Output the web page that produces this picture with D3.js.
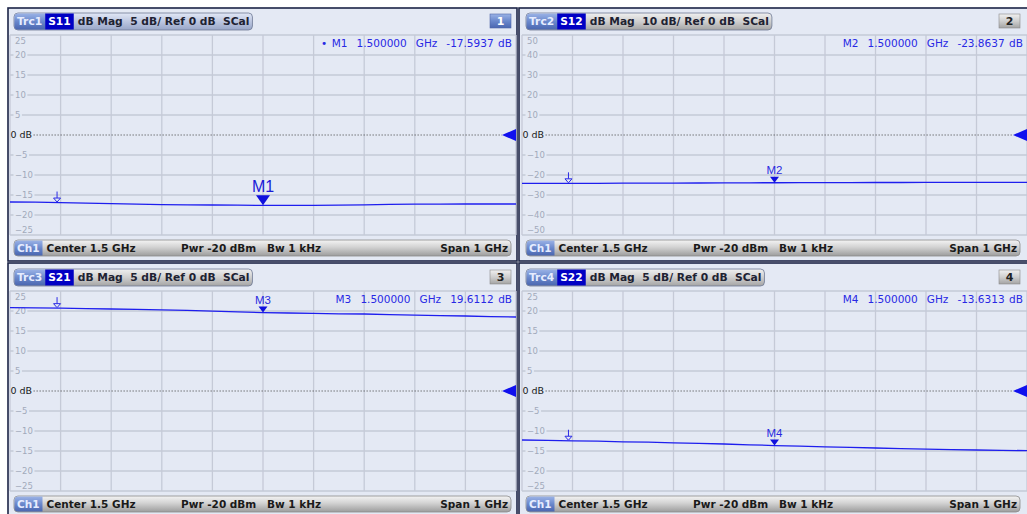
<!DOCTYPE html>
<html><head><meta charset="utf-8">
<script src="https://cdn.jsdelivr.net/npm/d3@7"></script>
<style>
html,body{margin:0;padding:0;background:#fff;}
svg{display:block;}
text{white-space:pre;}
</style></head><body>
<svg id="c" width="1027" height="514"></svg>
<script>
// Sweep frequencies (GHz) and the four S-parameter magnitude traces (dB)
const freqGHz = [1.00,1.05,1.10,1.15,1.20,1.25,1.30,1.35,1.40,1.45,1.50,1.55,1.60,1.65,1.70,1.75,1.80,1.85,1.90,1.95,2.00];
const s11 = [-16.75,-16.80,-16.90,-17.05,-17.15,-17.30,-17.40,-17.45,-17.50,-17.55,-17.5937,-17.60,-17.60,-17.55,-17.45,-17.35,-17.30,-17.30,-17.25,-17.25,-17.25];
const s12 = [-24.20,-24.20,-24.15,-24.15,-24.10,-24.10,-24.05,-24.00,-23.95,-23.90,-23.8637,-23.85,-23.80,-23.80,-23.75,-23.75,-23.70,-23.70,-23.70,-23.65,-23.65];
const s21 = [20.85,20.80,20.70,20.60,20.50,20.40,20.30,20.15,19.95,19.80,19.6112,19.50,19.40,19.30,19.25,19.10,18.95,18.85,18.75,18.60,18.50];
const s22 = [-12.25,-12.35,-12.45,-12.55,-12.70,-12.80,-12.95,-13.10,-13.25,-13.45,-13.6313,-13.80,-13.95,-14.10,-14.25,-14.40,-14.55,-14.65,-14.75,-14.85,-14.90];

const traceNames = ["Trc1","Trc2","Trc3","Trc4"];
const paramNames = ["S11","S12","S21","S22"];
const dbPerDiv = [5,10,5,5];
const windowNums = ["1","2","3","4"];
const markerNames = ["M1","M2","M3","M4"];
const markerGHz = 1.5;
const markerDb = [-17.5937,-23.8637,19.6112,-13.6313];
const markerReadout = ["-17.5937 dB","-23.8637 dB","19.6112 dB","-13.6313 dB"];
const stimGHz = [1.093,1.092,1.093,1.092];
const ticks5 = [25,20,15,10,5,0,-5,-10,-15,-20,-25];
const ticks10 = [50,40,30,20,10,0,-10,-20,-30,-40,-50];
const xDivs = [1.0,1.1,1.2,1.3,1.4,1.5,1.6,1.7,1.8,1.9,2.0];
const channelLabel = "Ch1";
const channelInfo = ["Center 1.5 GHz","Pwr -20 dBm","Bw 1 kHz","Span 1 GHz"];
const series = [s11,s12,s21,s22];

// screen layout of the 2x2 diagram windows
const cols = [{x0:10,x1:516,fl:8,fr:517},{x0:522,x1:1027,fl:519,fr:1029}];
const rows = [{top:35,bot:235,ft:8,fb:261},{top:291,bot:491,ft:263,fb:516}];

const BG = "#e4e9f4", GRID = "#c5cad7", TRACE = "#1e1eee", MARK = "#2a2ae6";
const FONT = "DejaVu Sans, Verdana, sans-serif";

const svg = d3.select("#c");
const defs = svg.append("defs");
function grad(id, stops){
  const g = defs.append("linearGradient").attr("id",id).attr("x1",0).attr("y1",0).attr("x2",0).attr("y2",1);
  stops.forEach(([o,c])=>g.append("stop").attr("offset",o).attr("stop-color",c));
}
grad("gBlue",[[0,"#9ab2e6"],[0.5,"#6a88cc"],[1,"#4a66b0"]]);
grad("gBlueGray",[[0,"#e2e8f6"],[0.5,"#bcc6e0"],[1,"#98a6c8"]]);
grad("gGray",[[0,"#f0f0f0"],[0.5,"#cfcfcf"],[1,"#a4a4a4"]]);
grad("gBar",[[0,"#f4f4f4"],[0.45,"#d2d2d2"],[1,"#9c9c9c"]]);

function textW(sel){ return sel.node().getComputedTextLength(); }

// trace value at an arbitrary sweep frequency, read along the drawn polyline
function traceAt(data, f){
  const k = Math.min(freqGHz.length-2, Math.max(0, d3.bisectRight(freqGHz, f)-1));
  const t = (f - freqGHz[k]) / (freqGHz[k+1] - freqGHz[k]);
  return data[k] + (data[k+1]-data[k]) * t;
}

series.forEach((data, i) => {
  const col = cols[i % 2], row = rows[Math.floor(i / 2)];
  const active = i === 0;
  const div = dbPerDiv[i];
  const tickVals = div === 10 ? ticks10 : ticks5;
  const g = svg.append("g");

  // window frame
  g.append("rect").attr("x",col.fl).attr("y",row.ft).attr("width",col.fr-col.fl).attr("height",row.fb-row.ft)
    .attr("fill",BG).attr("stroke","#1c2446").attr("stroke-width",1.6);

  const x = d3.scaleLinear().domain([1.0,2.0]).range([col.x0,col.x1]);
  const y = d3.scaleLinear().domain([-5*div,5*div]).range([row.bot,row.top]);

  // grid
  const grid = g.append("g");
  grid.selectAll("line.v").data(xDivs).join("line")
    .attr("x1",d=>x(d)).attr("x2",d=>x(d)).attr("y1",row.top).attr("y2",row.bot)
    .attr("stroke",GRID).attr("stroke-width",1.3);
  grid.selectAll("line.h").data(tickVals.filter(v=>v!==0)).join("line")
    .attr("x1",col.x0).attr("x2",col.x1).attr("y1",d=>y(d)).attr("y2",d=>y(d))
    .attr("stroke",GRID).attr("stroke-width",1.3);

  // tick labels with knocked-out background
  const lab = g.append("g").attr("font-family",FONT).attr("font-size",8.5).attr("fill","#a2aabb");
  tickVals.filter(v=>v!==0).forEach(v=>{
    const edge = v === tickVals[0] ? 1 : (v === tickVals[tickVals.length-1] ? -1 : 0);
    const ty = edge === 1 ? y(v)+6 : (edge === -1 ? y(v)-4.5 : y(v));
    const t = lab.append("text").attr("x",col.x0+5).attr("y",ty).attr("dy","0.35em").text(String(v).replace("-","\u2212"));
    if (edge === 0) {
      const w = textW(t);
      lab.insert("rect","text:last-child").attr("x",col.x0+3.5).attr("y",y(v)-2).attr("width",w+3).attr("height",4).attr("fill",BG);
    }
  });

  // reference line (0 dB) with label and level arrow
  const y0 = y(0);
  const zl = g.append("text").attr("x",col.x0+0.5).attr("y",y0).attr("dy","0.36em")
    .attr("font-family",FONT).attr("font-size",9.5).attr("fill","#1a1a1a").text("0 dB");
  g.append("line").attr("x1",col.x0+1+textW(zl)+1).attr("x2",col.x1-14).attr("y1",y0).attr("y2",y0)
    .attr("stroke","#3a3a3a").attr("stroke-width",1).attr("stroke-dasharray","1,2");
  g.append("path").attr("d",`M${col.x1-14},${y0}L${col.x1},${y0-6}L${col.x1},${y0+6}Z`).attr("fill","#1010ee");

  // trace
  const line = d3.line().x((d,k)=>x(freqGHz[k])).y(d=>y(d));
  g.append("path").datum(data).attr("d",line).attr("fill","none").attr("stroke",TRACE).attr("stroke-width",1.3);

  // stimulus marker symbol
  const sx = x(stimGHz[i]), sy = y(traceAt(data, stimGHz[i]));
  g.append("line").attr("x1",sx).attr("x2",sx).attr("y1",sy-11).attr("y2",sy-4.5).attr("stroke",MARK).attr("stroke-width",1);
  g.append("path").attr("d",`M${sx-3.5},${sy-4.5}L${sx+3.5},${sy-4.5}L${sx},${sy-0.5}Z`).attr("fill",BG).attr("stroke",MARK).attr("stroke-width",1);

  // marker M
  const mx = x(markerGHz), my = y(markerDb[i]);
  if (active) {
    g.append("path").attr("d",`M${mx-7},${my-10}L${mx+7},${my-10}L${mx},${my}Z`).attr("fill","#1010dd");
    g.append("text").attr("x",mx).attr("y",my-13).attr("text-anchor","middle")
      .attr("font-family","Liberation Sans, Arial, sans-serif").attr("font-size",16).attr("fill","#1a1ad8").text(markerNames[i]);
  } else {
    g.append("path").attr("d",`M${mx-4.5},${my-6}L${mx+4.5},${my-6}L${mx},${my}Z`).attr("fill","#1010dd");
    g.append("text").attr("x",mx).attr("y",my-8.5).attr("text-anchor","middle")
      .attr("font-family","Liberation Sans, Arial, sans-serif").attr("font-size",11.5).attr("fill","#2a2ae0").text(markerNames[i]);
  }

  // marker readout
  const ro = (active ? "\u2022 " : "") + markerNames[i] + "  1.500000  GHz  " + markerReadout[i];
  g.append("text").attr("x",col.x1-4).attr("y",row.top+11.5).attr("text-anchor","end")
    .attr("font-family",FONT).attr("font-size",10.5).attr("word-spacing",1.2).attr("fill","#2828e4").text(ro);

  // trace header pill
  const py = row.top - 22, ph = 17, px = col.x0 + 4;
  const hdr = g.append("g").attr("font-family",FONT).attr("font-weight","bold").attr("font-size",10.7);
  const t1 = hdr.append("text").attr("y",py+ph/2).attr("dy","0.36em").attr("fill","#e6ecff").text(traceNames[i]);
  const t2 = hdr.append("text").attr("y",py+ph/2).attr("dy","0.36em").attr("fill","#ffffff").text(paramNames[i]);
  const t3 = hdr.append("text").attr("y",py+ph/2).attr("dy","0.36em").attr("fill","#1e2232")
    .text(`dB Mag  ${div} dB/ Ref 0 dB  SCal`);
  const w1 = textW(t1)+6, w2 = textW(t2)+6, w3 = textW(t3)+7;
  const bgG = hdr.insert("g","text");
  bgG.append("rect").attr("x",px).attr("y",py).attr("width",w1+w2+w3).attr("height",ph).attr("rx",4)
    .attr("fill",active ? "url(#gBlueGray)" : "url(#gGray)").attr("stroke","#6e7a96").attr("stroke-width",0.8);
  bgG.append("path").attr("d",`M${px+w1},${py+0.5}H${px+4}A3.5,3.5 0 0 0 ${px+0.5},${py+4}V${py+ph-4}A3.5,3.5 0 0 0 ${px+4},${py+ph-0.5}H${px+w1}Z`).attr("fill","url(#gBlue)");
  bgG.append("rect").attr("x",px+w1).attr("y",py+0.5).attr("width",w2).attr("height",ph-1).attr("fill","#0000c4");
  t1.attr("x",px+3); t2.attr("x",px+w1+3); t3.attr("x",px+w1+w2+4);

  // window number badge
  const bw = 21, bx = col.x1 - 5 - bw - (i%2 ? 2 : 0), by = row.top - 21;
  g.append("rect").attr("x",bx).attr("y",by).attr("width",bw).attr("height",14)
    .attr("fill",active ? "url(#gBlue)" : "url(#gGray)").attr("stroke",active ? "#5068a8" : "#8a8a8a").attr("stroke-width",0.6);
  g.append("text").attr("x",bx+bw/2).attr("y",by+7).attr("dy","0.36em").attr("text-anchor","middle")
    .attr("font-family",FONT).attr("font-weight","bold").attr("font-size",11).attr("fill",active ? "#ffffff" : "#222").text(windowNums[i]);

  // channel bar
  const cy = row.bot + 5, ch = 16, cx = col.x0 + 4, cw = (col.x1 - 5) - cx - (i%2 ? 2 : 0);
  const bar = g.append("g").attr("font-family",FONT).attr("font-weight","bold").attr("font-size",10.5);
  bar.append("rect").attr("x",cx).attr("y",cy).attr("width",cw).attr("height",ch).attr("rx",4)
    .attr("fill","url(#gBar)").attr("stroke","#8c8c8c").attr("stroke-width",0.8);
  const ct = bar.append("text").attr("x",cx+3).attr("y",cy+ch/2).attr("dy","0.36em").attr("fill","#e6ecff").text(channelLabel);
  const cwl = textW(ct)+6;
  bar.insert("path","text").attr("d",`M${cx+cwl},${cy+0.5}H${cx+4}A3.5,3.5 0 0 0 ${cx+0.5},${cy+4}V${cy+ch-4}A3.5,3.5 0 0 0 ${cx+4},${cy+ch-0.5}H${cx+cwl}Z`).attr("fill","url(#gBlue)");
  bar.append("text").attr("x",cx+cwl+4).attr("y",cy+ch/2).attr("dy","0.36em").attr("fill","#1a1a1a").text(channelInfo[0]);
  bar.append("text").attr("x",col.x0+171).attr("y",cy+ch/2).attr("dy","0.36em").attr("fill","#1a1a1a").text(channelInfo[1]);
  bar.append("text").attr("x",col.x0+257).attr("y",cy+ch/2).attr("dy","0.36em").attr("fill","#1a1a1a").text(channelInfo[2]);
  bar.append("text").attr("x",cx+cw-3).attr("y",cy+ch/2).attr("dy","0.36em").attr("text-anchor","end").attr("fill","#1a1a1a").text(channelInfo[3]);
});
</script></body></html>
